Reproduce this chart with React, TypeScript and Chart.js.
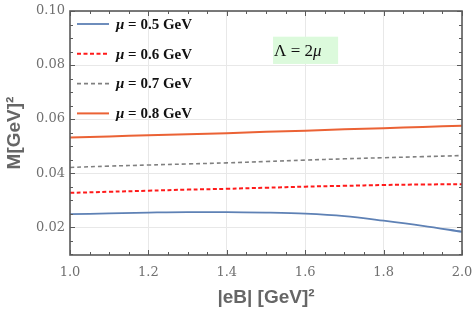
import React, { useEffect, useRef } from "react";
import { Chart, registerables } from "chart.js";

Chart.register(...registerables);

const xValues = [1.0, 1.1, 1.2, 1.3, 1.4, 1.5, 1.6, 1.7, 1.8, 1.9, 2.0];
const mu05 = [0.0248, 0.0251, 0.0254, 0.0256, 0.0256, 0.0254, 0.025, 0.0241, 0.0224, 0.0205, 0.0183];
const mu06 = [0.0327, 0.0331, 0.0335, 0.0339, 0.0342, 0.0346, 0.035, 0.0353, 0.0356, 0.0358, 0.0359];
const mu07 = [0.0421, 0.0426, 0.043, 0.0434, 0.0438, 0.0443, 0.0448, 0.0453, 0.0457, 0.0461, 0.0465];
const mu08 = [0.0532, 0.0536, 0.054, 0.0544, 0.0548, 0.0553, 0.0557, 0.0562, 0.0566, 0.0571, 0.0575];
const muLabels = ["0.5", "0.6", "0.7", "0.8"];
const yTickValues = [0.02, 0.04, 0.06, 0.08, 0.1];
const xTickValues = [1.0, 1.2, 1.4, 1.6, 1.8, 2.0];
const annotationText = ["Λ = 2", "μ"];

const toPoints = (ys: number[]) => xValues.map((x, i) => ({ x, y: ys[i] }));

const frameTicksPlugin = {
  id: "frameTicks",
  afterDatasetsDraw(chart: any) {
    const { ctx, chartArea, scales } = chart;
    const { left, right, top, bottom } = chartArea;
    const xs = scales.x;
    const ys = scales.y;
    ctx.save();
    ctx.strokeStyle = "#5a5a5a";
    ctx.lineWidth = 1;
    for (let v = 1.0; v <= 2.0001; v += 0.05) {
      const major = Math.abs(Math.round(v * 5) - v * 5) < 1e-6;
      const len = major ? 5 : 3;
      const px = Math.round(xs.getPixelForValue(v)) + 0.5;
      ctx.beginPath();
      ctx.moveTo(px, bottom);
      ctx.lineTo(px, bottom - len);
      ctx.moveTo(px, top);
      ctx.lineTo(px, top + len);
      ctx.stroke();
    }
    for (let v = 0.01; v <= 0.10001; v += 0.005) {
      const major = Math.abs(Math.round(v * 50) - v * 50) < 1e-6;
      const len = major ? 5 : 3;
      const py = Math.round(ys.getPixelForValue(v)) + 0.5;
      if (py > bottom) continue;
      ctx.beginPath();
      ctx.moveTo(left, py);
      ctx.lineTo(left + len, py);
      ctx.moveTo(right, py);
      ctx.lineTo(right - len, py);
      ctx.stroke();
    }
    ctx.lineWidth = 1.6;
    ctx.strokeStyle = "#5a5a5a";
    ctx.strokeRect(left, top, right - left, bottom - top);

    // legend
    const datasets = chart.data.datasets;
    const rowY0 = top + 13;
    const rowStep = 29.8;
    datasets.forEach((ds: any, i: number) => {
      const y = rowY0 + i * rowStep;
      ctx.save();
      ctx.strokeStyle = ds.borderColor;
      ctx.lineWidth = ds.borderWidth;
      ctx.setLineDash(ds.borderDash || []);
      ctx.beginPath();
      ctx.moveTo(left + 7, y);
      ctx.lineTo(left + 39, y);
      ctx.stroke();
      ctx.restore();
      ctx.fillStyle = "#111";
      ctx.textBaseline = "middle";
      ctx.textAlign = "left";
      let tx = left + 46;
      ctx.font = "italic bold 15px 'Liberation Serif', serif";
      ctx.fillText("μ", tx, y + 1);
      tx += ctx.measureText("μ").width;
      ctx.font = "bold 15px 'Liberation Serif', serif";
      const rest = " = " + muLabels[i] + " GeV";
      ctx.fillText(rest, tx, y + 1);
    });

    // annotation box
    const bx = xs.getPixelForValue(1.518);
    const bx2 = xs.getPixelForValue(1.684);
    const by = ys.getPixelForValue(0.0905);
    const by2 = ys.getPixelForValue(0.0804);
    ctx.fillStyle = "#dcfadc";
    ctx.fillRect(bx, by, bx2 - bx, by2 - by);
    ctx.fillStyle = "#111";
    ctx.textBaseline = "alphabetic";
    ctx.font = "17px 'Liberation Serif', serif";
    const ty = by + (by2 - by) / 2 + 6;
    ctx.fillText(annotationText[0], bx + 1, ty);
    const w = ctx.measureText(annotationText[0]).width;
    ctx.font = "italic 17px 'Liberation Serif', serif";
    ctx.fillText(annotationText[1], bx + 1 + w, ty);
    ctx.restore();
  },
};

export default function App() {
  const ref = useRef<HTMLCanvasElement | null>(null);
  useEffect(() => {
    if (!ref.current) return;
    const chart = new Chart(ref.current, {
      type: "line",
      data: {
        datasets: [
          {
            label: "μ = " + muLabels[0] + " GeV",
            data: toPoints(mu05),
            borderColor: "#5e81b5",
            borderWidth: 1.8,
            pointRadius: 0,
            tension: 0.4,
            cubicInterpolationMode: "monotone",
          },
          {
            label: "μ = " + muLabels[1] + " GeV",
            data: toPoints(mu06),
            borderColor: "#ff1a1a",
            borderWidth: 2,
            borderDash: [4, 2.5],
            pointRadius: 0,
            tension: 0.4,
          },
          {
            label: "μ = " + muLabels[2] + " GeV",
            data: toPoints(mu07),
            borderColor: "#808080",
            borderWidth: 1.6,
            borderDash: [4, 3],
            pointRadius: 0,
            tension: 0.4,
          },
          {
            label: "μ = " + muLabels[3] + " GeV",
            data: toPoints(mu08),
            borderColor: "#eb6235",
            borderWidth: 2,
            pointRadius: 0,
            tension: 0.4,
          },
        ],
      },
      options: {
        animation: false,
        responsive: false,
        layout: { padding: { top: 11, right: 13, left: 0, bottom: 0 } },
        plugins: { legend: { display: false }, tooltip: { enabled: false } },
        scales: {
          x: {
            type: "linear",
            min: 1.0,
            max: 2.0,
            afterBuildTicks: (axis: any) => {
              axis.ticks = xTickValues.map((v) => ({ value: v }));
            },
            afterFit: (axis: any) => {
              axis.height = 58;
              axis.paddingLeft = 0;
              axis.paddingRight = 0;
            },
            grid: { color: "#e8e8e8", lineWidth: 1, drawTicks: false },
            border: { display: false },
            ticks: {
              padding: 10,
              color: "#707070",
              font: { family: "'DejaVu Serif', serif", size: 13 },
              callback: (v: any) => Number(v).toFixed(1),
              maxRotation: 0,
            },
            title: {
              display: true,
              text: "|eB| [GeV]²",
              color: "#666",
              font: { family: "'Liberation Sans', Arial, sans-serif", size: 19, weight: "bold" },
              padding: { top: 0, bottom: 4 },
            },
          },
          y: {
            type: "linear",
            min: 0.0097,
            max: 0.1,
            afterBuildTicks: (axis: any) => {
              axis.ticks = yTickValues.map((v) => ({ value: v }));
            },
            afterFit: (axis: any) => {
              axis.width = 70;
              axis.paddingTop = 0;
              axis.paddingBottom = 0;
            },
            grid: { color: "#e8e8e8", lineWidth: 1, drawTicks: false },
            border: { display: false },
            ticks: {
              padding: 5,
              color: "#707070",
              font: { family: "'DejaVu Serif', serif", size: 13 },
              callback: (v: any) => Number(v).toFixed(2),
            },
            title: {
              display: true,
              text: "M[GeV]²",
              color: "#666",
              font: { family: "'Liberation Sans', Arial, sans-serif", size: 19, weight: "bold" },
              padding: { top: 3, bottom: 0 },
            },
          },
        },
      },
      plugins: [frameTicksPlugin],
    } as any);
    return () => chart.destroy();
  }, []);
  return (
    <div style={{ position: "absolute", left: 0, top: 0, width: 475, height: 313, background: "#fff" }}>
      <canvas ref={ref} width={475} height={313} />
    </div>
  );
}
